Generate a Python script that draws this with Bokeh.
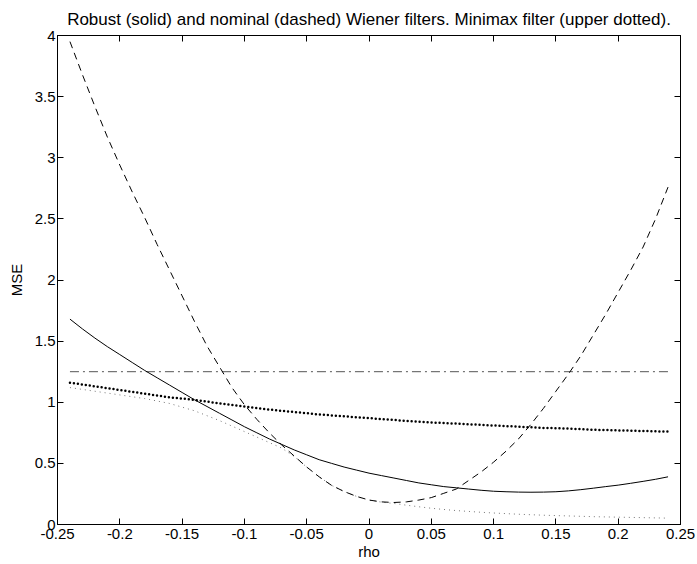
from bokeh.plotting import figure
from bokeh.models import LinearAxis, FixedTicker, Range1d
from bokeh.embed import file_html
from bokeh.resources import INLINE

# ---- data ----
rho_fine = [-0.24, -0.23, -0.22, -0.21, -0.20, -0.19, -0.18, -0.17, -0.16, -0.15,
            -0.14, -0.13, -0.12, -0.11, -0.10, -0.09, -0.08, -0.07, -0.06, -0.05,
            -0.04, -0.03, -0.02, -0.01, 0.00, 0.01, 0.02, 0.03, 0.04, 0.05,
            0.06, 0.07, 0.08, 0.09, 0.10, 0.11, 0.12, 0.13, 0.14, 0.15,
            0.16, 0.17, 0.18, 0.19, 0.20, 0.21, 0.22, 0.23, 0.24]
nominal_mse = [3.95, 3.68, 3.42, 3.17, 2.94, 2.72, 2.51, 2.29, 2.08, 1.87,
               1.66, 1.46, 1.29, 1.12, 0.98, 0.86, 0.75, 0.65, 0.56, 0.47,
               0.39, 0.32, 0.27, 0.23, 0.20, 0.185, 0.18, 0.185, 0.20, 0.22,
               0.255, 0.29, 0.36, 0.43, 0.51, 0.60, 0.70, 0.82, 0.95, 1.09,
               1.23, 1.38, 1.55, 1.72, 1.90, 2.08, 2.27, 2.50, 2.76]
lower_mse = [1.12, 1.105, 1.09, 1.075, 1.06, 1.045, 1.03, 1.01, 0.99, 0.96,
             0.93, 0.89, 0.85, 0.805, 0.76, 0.715, 0.67, 0.625, 0.555, 0.47,
             0.39, 0.32, 0.27, 0.23, 0.20, 0.183, 0.172, 0.158, 0.145, 0.133,
             0.123, 0.114, 0.107, 0.100, 0.094, 0.089, 0.084, 0.080, 0.076, 0.073,
             0.070, 0.067, 0.064, 0.062, 0.060, 0.058, 0.056, 0.054, 0.052]
robust_mse = [1.68, 1.60, 1.525, 1.455, 1.39, 1.325, 1.26, 1.20, 1.14, 1.08,
              1.02, 0.965, 0.91, 0.855, 0.80, 0.75, 0.70, 0.655, 0.61, 0.57,
              0.53, 0.50, 0.47, 0.445, 0.42, 0.40, 0.38, 0.36, 0.34, 0.325,
              0.31, 0.30, 0.29, 0.28, 0.272, 0.268, 0.265, 0.264, 0.265, 0.268,
              0.275, 0.285, 0.297, 0.31, 0.322, 0.337, 0.353, 0.37, 0.39]

rho = [-0.24, -0.22, -0.20, -0.18, -0.16, -0.14, -0.12, -0.10, -0.08, -0.06,
       -0.04, -0.02, 0.00, 0.02, 0.04, 0.06, 0.08, 0.10, 0.12, 0.14,
       0.16, 0.18, 0.20, 0.22, 0.24]
minimax_mse = [1.16, 1.13, 1.10, 1.07, 1.04, 1.02, 0.99, 0.965, 0.94, 0.92,
               0.90, 0.885, 0.87, 0.855, 0.84, 0.83, 0.82, 0.81, 0.80, 0.79,
               0.785, 0.775, 0.77, 0.765, 0.76]

const_rho = [-0.24, 0.24]
const_mse = [1.25, 1.25]

x_ticks = [-0.25, -0.2, -0.15, -0.1, -0.05, 0, 0.05, 0.1, 0.15, 0.2, 0.25]
x_labels = ["-0.25", "-0.2", "-0.15", "-0.1", "-0.05", "0", "0.05", "0.1", "0.15", "0.2", "0.25"]
y_ticks = [0, 0.5, 1, 1.5, 2, 2.5, 3, 3.5, 4]
y_labels = ["0", "0.5", "1", "1.5", "2", "2.5", "3", "3.5", "4"]

FONT = "Liberation Sans"

p = figure(width=696, height=562, output_backend="svg", toolbar_location=None,
           x_range=Range1d(-0.25, 0.25), y_range=Range1d(0, 4),
           x_axis_label="rho", y_axis_label="MSE",
           title="Robust (solid) and nominal (dashed) Wiener filters. Minimax filter (upper dotted).")
p.min_border_left = 57
p.min_border_right = 16
p.min_border_top = 34
p.min_border_bottom = 38
p.grid.visible = False
p.outline_line_color = "black"
p.outline_line_width = 1
p.background_fill_color = "white"
p.border_fill_color = "white"

p.title.align = "center"
p.title.text_font = FONT
p.title.text_font_size = "17px"
p.title.text_font_style = "normal"
p.title.text_color = "black"
p.title.standoff = 14

for ax, ticks, labels in ((p.xaxis[0], x_ticks, x_labels), (p.yaxis[0], y_ticks, y_labels)):
    ax.ticker = FixedTicker(ticks=ticks)
    ax.major_label_overrides = {t: l for t, l in zip(ticks, labels)}
    ax.major_tick_in = 6
    ax.major_tick_out = 0
    ax.minor_tick_line_color = None
    ax.axis_line_color = "black"
    ax.major_tick_line_color = "black"
    ax.major_label_text_font = FONT
    ax.major_label_text_font_size = "15px"
    ax.major_label_text_color = "black"
    ax.axis_label_text_font = FONT
    ax.axis_label_text_font_size = "15px"
    ax.axis_label_text_font_style = "normal"
    ax.axis_label_text_color = "black"

p.xaxis[0].major_label_standoff = 4
p.xaxis[0].axis_label_standoff = 1
p.yaxis[0].major_label_standoff = 2
p.yaxis[0].axis_label_standoff = 7

for loc, ticks in (("above", x_ticks), ("right", y_ticks)):
    ax = LinearAxis(ticker=FixedTicker(ticks=ticks))
    ax.major_tick_in = 6
    ax.major_tick_out = 0
    ax.minor_tick_line_color = None
    ax.axis_line_color = "black"
    ax.major_tick_line_color = "black"
    ax.major_label_text_color = None
    ax.major_label_standoff = 0
    p.add_layout(ax, loc)

# curves
p.line(const_rho, const_mse, line_color="#555555", line_width=1, line_dash="9 4 2 4")
p.line(rho_fine, lower_mse, line_color="#777777", line_width=1, line_dash="1 4")
p.line(rho, minimax_mse, line_color="black", line_width=2.5, line_dash="0 4", line_cap="round")
p.line(rho_fine, nominal_mse, line_color="black", line_width=1, line_dash="7 5")
p.line(rho_fine, robust_mse, line_color="black", line_width=1)

open("out.html", "w").write(file_html(p, INLINE))
